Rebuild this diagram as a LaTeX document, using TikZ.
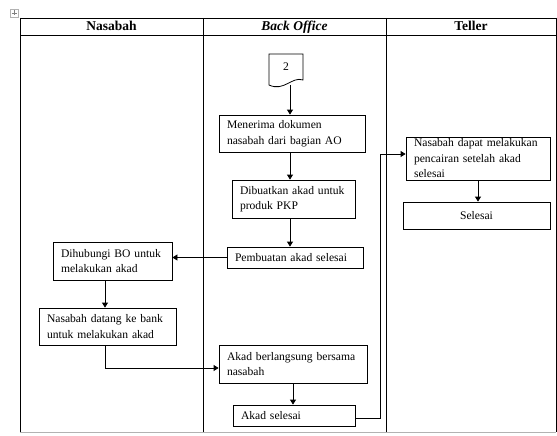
\documentclass[tikz,border=0pt]{standalone}
\usepackage{fontspec}
\setmainfont{Liberation Serif}
\usetikzlibrary{
	arrows.meta
}
\tikzset{
	lane/.style={
		line width=0.9pt
	},
	head/.style={
		anchor=base,
		font=\fontsize{13.5}{16}\selectfont\bfseries
	},
	box/.style={
		draw,
		line width=0.8pt,
		inner xsep=8pt,
		inner ysep=1pt,
		align=left,
		font=\fontsize{11.6}{15.5}\selectfont
	},
	arr/.style={
		line width=0.8pt,
		-{Triangle[length=5pt,width=6pt]}
	}
}

\begin{document}
\begin{tikzpicture}[x=1pt,y=-1pt]
	\useasboundingbox (0,0) rectangle (557,436);

	% table handle
	\draw[gray!60,line width=0.5pt] (10,9) rectangle (18,17);
	\draw[gray,line width=0.5pt] (14,10.5) -- (14,15.5) (11.5,13) -- (16.5,13);

	% swimlanes
	\draw[lane]
		(20,18) -- (556,18)
		(20,35) -- (556,35)
		(20,18) -- (20,432)
		(203,18) -- (203,432)
		(386,18) -- (386,432)
		(556,18) -- (556,432);
	\draw[lane,gray!60] (20,432) -- (556,432);

	\node[head] (hNasabah) at (111.5,31) {Nasabah};
	\node[head] (hBO)      at (294.5,31) {\itshape Back Office};
	\node[head] (hTeller)  at (471,31)   {Teller};

	% off-page connector 2
	\draw[line width=0.8pt] (269,54) -- (303,54) -- (303,80)
		.. controls (292,76) and (284,92) .. (269,85) -- cycle;
	\node[font=\fontsize{11.6}{14}\selectfont] (d2) at (286,67) {2};
	\coordinate (d2b) at (290,85);

	% Back Office
	\node[box,text width=130pt,minimum height=37pt] (menerima)    at (292,133.5) {Menerima dokumen\\nasabah dari bagian AO};
	\node[box,text width=107pt,minimum height=38pt] (dibuatkan)   at (293.5,199) {Dibuatkan akad untuk\\produk PKP};
	\node[box,text width=120pt,minimum height=21pt] (pembuatan)   at (295,257.5) {Pembuatan akad selesai};
	\node[box,text width=132pt,minimum height=38pt] (berlangsung) at (293,364)   {Akad berlangsung bersama\\nasabah};
	\node[box,text width=106pt,minimum height=21pt] (akadselesai) at (294,415.5) {Akad selesai};

	% Nasabah
	\node[box,text width=103pt,minimum height=38pt] (dihubungi) at (112.5,261)  {Dihubungi BO untuk\\melakukan akad};
	\node[box,text width=121pt,minimum height=37pt] (datang)    at (107.5,326.5) {Nasabah datang ke bank\\untuk melakukan akad};

	% Teller
	\node[box,text width=128pt,minimum height=43pt] (cair)    at (478,158.5) {Nasabah dapat melakukan\\pencairan setelah akad\\selesai};
	\node[box,text width=131pt,minimum height=27pt,align=center] (selesai) at (476.5,215.5) {Selesai};

	\coordinate (cx) at (105,0);
	\coordinate (rx) at (380,154);

	\draw[arr] (d2b) -- (d2b |- menerima.north);
	\draw[arr] (menerima.south -| d2b) -- (dibuatkan.north -| d2b);
	\draw[arr] (dibuatkan.south -| d2b) -- (pembuatan.north -| d2b);
	\draw[arr] (pembuatan.west) -- (pembuatan.west -| dihubungi.east);
	\draw[arr] (dihubungi.south -| cx) -- (datang.north -| cx);
	\draw[arr] (datang.south -| cx) |- ([yshift=-4pt]berlangsung.west);
	\draw[arr] (berlangsung.south) -- (berlangsung.south |- akadselesai.north);
	\draw[arr] ([yshift=-3pt]akadselesai.east) -| (rx) -- (rx -| cair.west);
	\draw[arr] (cair.south) -- (cair.south |- selesai.north);
\end{tikzpicture}
\end{document}
